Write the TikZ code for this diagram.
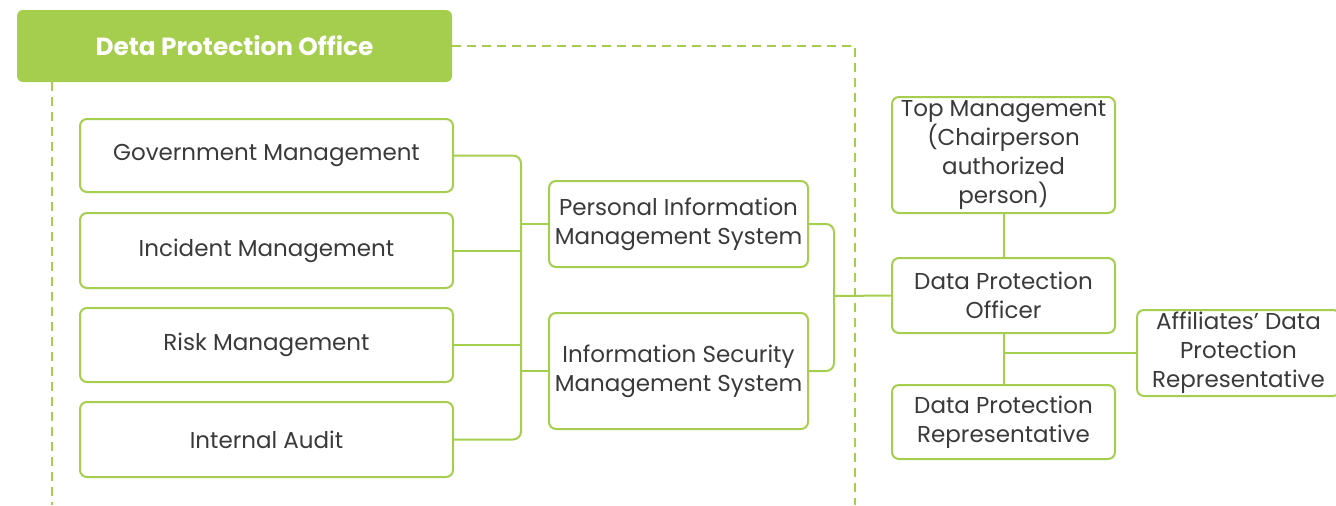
\documentclass[tikz,border=0pt]{standalone}
\usepackage{fontspec}
\setmainfont{Poppins}
\usepackage{tikz}
\usetikzlibrary{calc,positioning}
\definecolor{dpgreen}{HTML}{A6CE4E}
\definecolor{dptext}{HTML}{3A3A3A}

\begin{document}
\begin{tikzpicture}[x=0.5pt, y=-0.5pt,
    office/.style={fill=dpgreen, rounded corners=3pt, text=white, font=\fontsize{12.4}{14}\selectfont\bfseries,
        minimum width=217.5pt, minimum height=36pt, inner sep=0pt},
    unit/.style={draw=dpgreen, line width=1pt, rounded corners=3.5pt, fill=white, text=dptext, align=center,
        font=\fontsize{11.5}{14.5}\selectfont, inner sep=0pt},
    conn/.style={draw=dpgreen, line width=1pt, rounded corners=4pt},
    dashedline/.style={draw=dpgreen, line width=0.9pt, dash pattern=on 4.5pt off 3pt}]
                        \useasboundingbox (0, 0) rectangle (1336, 505);
                        \node[office] (dpoffice) at (234.5, 46) {Deta Protection Office};
                        \coordinate (lbot) at (52, 505);
                        \coordinate (rbot) at (855, 505);
                        \draw[dashedline] (dpoffice.south west -| lbot) -- (lbot);
                        \draw[dashedline] (dpoffice.east) -| (rbot);

                        \node[unit, minimum width=186.5pt, minimum height=36.5pt] (gov) at (266.5, 155.5) {Government Management};
                        \node[unit, minimum width=186.5pt, minimum height=37.5pt] (incident) at (266.5, 250.5) {Incident Management};
                        \node[unit, minimum width=186.5pt, minimum height=37pt] (risk) at (266.5, 345) {Risk Management};
                        \node[unit, minimum width=186.5pt, minimum height=37.5pt] (audit) at (266.5, 439.5) {Internal Audit};

                        \node[unit, minimum width=129.5pt, minimum height=43pt] (pims) at (678.5, 224) {Personal Information\\Management System};
                        \node[unit, minimum width=129.5pt, minimum height=58pt] (isms) at (678.5, 371) {Information Security\\Management System};

                        \node[unit, minimum width=111.5pt, minimum height=58pt] (topmgmt) at (1003.5, 155) {Top Management\\(Chairperson\\authorized\\person)};
                        \node[unit, minimum width=111.5pt, minimum height=37.5pt] (officer) at (1003.5, 295.5) {Data Protection\\Officer};
                        \node[unit, minimum width=111.5pt, minimum height=37pt] (dprep) at (1003.5, 422) {Data Protection\\Representative};
                        \node[unit, minimum width=101.5pt, minimum height=43pt] (affrep) at (1238.5, 353) {Affiliates' Data\\Protection\\Representative};

                        \coordinate (bus) at (521, 296);
                        \coordinate (bracket) at (834, 296);
                        \draw[conn] (gov.east) -| (bus) |- (audit.east);
                        \draw[conn] (incident.east) -- (incident.east -| bus);
                        \draw[conn] (risk.east) -- (risk.east -| bus);
                        \draw[conn] (bus |- pims.west) -- (pims.west);
                        \draw[conn] (bus |- isms.west) -- (isms.west);
                        \draw[conn] (pims.east) -| (bracket) |- (isms.east);
                        \draw[conn] (bracket) -- (officer.west);
                        \draw[conn] (topmgmt.south) -- (officer.north);
                        \draw[conn] (officer.south) -- (dprep.north);
                        \draw[conn] (officer.south |- affrep.west) -- (affrep.west);
                    \end{tikzpicture}
\end{document}
